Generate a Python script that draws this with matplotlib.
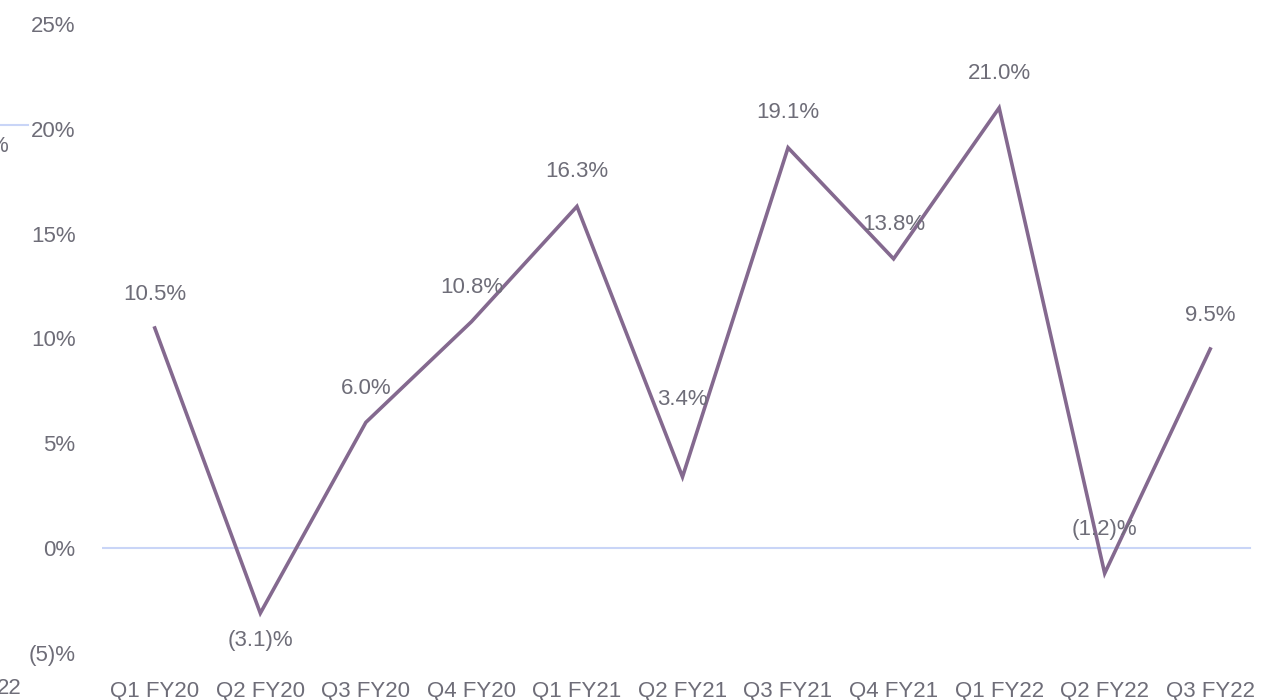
import matplotlib.pyplot as plt
from matplotlib.lines import Line2D

plt.rcParams['font.family'] = ['Liberation Sans', 'DejaVu Sans']

quarters = ["Q1 FY20", "Q2 FY20", "Q3 FY20", "Q4 FY20", "Q1 FY21", "Q2 FY21",
            "Q3 FY21", "Q4 FY21", "Q1 FY22", "Q2 FY22", "Q3 FY22"]
growth = [10.5, -3.1, 6.0, 10.8, 16.3, 3.4, 19.1, 13.8, 21.0, -1.2, 9.5]
yticks = [-5, 0, 5, 10, 15, 20, 25]

def fmt(v, dec=1):
    if v < 0:
        return "({:.{d}f})%".format(-v, d=dec)
    return "{:.{d}f}%".format(v, d=dec)

# label offsets in pixels (y, up is positive)
label_dy = [34, -27, 34, 34, 35, 77, 35, 34, 34, 44, 33]

grey = "#6e6d78"
purple = "#84698f"

fig = plt.figure(figsize=(12.73, 7.0), dpi=100)
ax = fig.add_axes([102 / 1273, (700 - 653) / 700, (1263 - 102) / 1273, (653 - 24) / 700])

x = list(range(len(quarters)))
ax.plot(x, growth, color=purple, lw=2.6, solid_joinstyle='miter', zorder=3)
ax.axhline(0, color="#c9d5f7", lw=1.5, xmax=(1250 - 102) / (1263 - 102), zorder=1)

for xi, v, dy in zip(x, growth, label_dy):
    ax.annotate(fmt(v), (xi, v), xytext=(0, dy * 0.72), textcoords='offset points',
                ha='center', va='center', fontsize=16, color=grey, zorder=4)

ax.set_xlim(-0.5, len(quarters) - 0.5)
ax.set_ylim(-5, 25)
ax.set_yticks(yticks)
ax.set_yticklabels([fmt(t, 0) for t in yticks])
ax.set_xticks(x)
ax.set_xticklabels(quarters)
ax.tick_params(axis='both', length=0, labelsize=16, colors=grey)
ax.tick_params(axis='y', pad=19)
ax.tick_params(axis='x', pad=20)
for s in ax.spines.values():
    s.set_visible(False)

# fragments of a neighbouring chart at the left edge
fig.text(8 / 1273, 1 - 147 / 700, "%", ha='right', va='center', fontsize=16, color=grey)
fig.text(22 / 1273, 1 - 689 / 700, "22", ha='right', va='center', fontsize=16, color=grey)
fig.add_artist(Line2D([0, 28 / 1273], [1 - 125 / 700, 1 - 125 / 700], color="#c9d5f7", lw=1.5))

fig.savefig("out.png", dpi=100)
